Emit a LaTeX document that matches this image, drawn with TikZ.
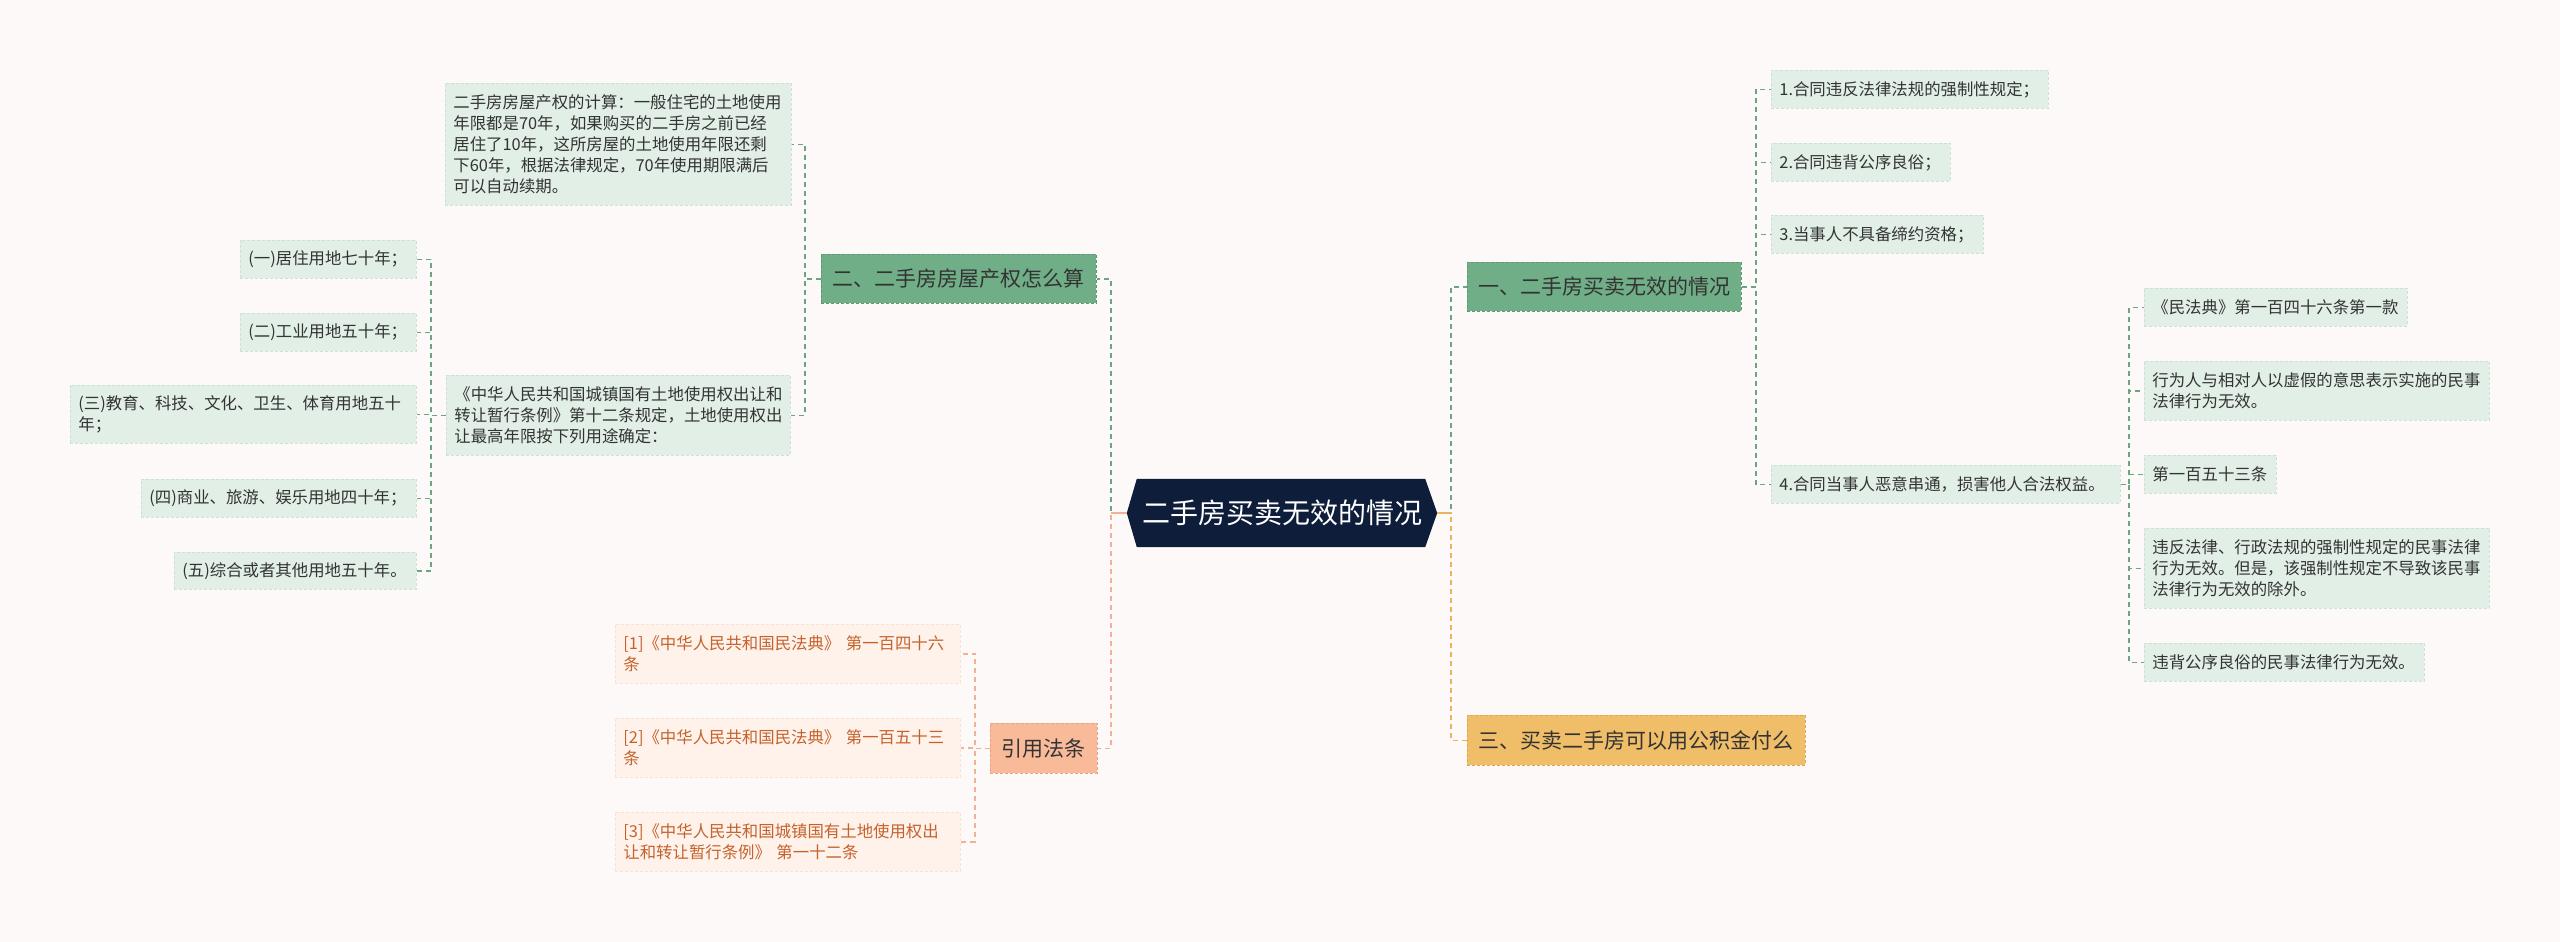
\documentclass[tikz,border=0pt]{standalone}
\usepackage{fontspec}
\setmainfont{Noto Sans CJK SC}
\usetikzlibrary{backgrounds}
\definecolor{bgc}{HTML}{FCF9F8}
\definecolor{navy}{HTML}{0E1E3A}
\definecolor{gmain}{HTML}{70AE87}
\definecolor{gmainb}{HTML}{5C9A73}
\definecolor{gleaf}{HTML}{E1EFE6}
\definecolor{gleafb}{HTML}{CCE2D4}
\definecolor{gold}{HTML}{F0BE69}
\definecolor{goldb}{HTML}{DDA850}
\definecolor{salmon}{HTML}{F9BA9A}
\definecolor{salmonb}{HTML}{EBA482}
\definecolor{oleaf}{HTML}{FEF2EA}
\definecolor{oleafb}{HTML}{F8E2D6}
\definecolor{otext}{HTML}{C5622C}
\definecolor{txt}{HTML}{333333}
\definecolor{gline}{HTML}{6BA581}
\definecolor{yline}{HTML}{E9B55E}
\definecolor{oline}{HTML}{F2B195}
\begin{document}
\begin{tikzpicture}[x=1pt,y=-1pt,
  sz/.style n args={3}{minimum width=#1pt, minimum height=#2pt, text width=#3pt},
  leafg/.style={draw=gleafb, fill=gleaf, dash pattern=on 3pt off 2pt, line width=0.8pt,
    text=txt, font=\fontsize{16.4}{21}\selectfont, align=left, inner xsep=8pt, inner ysep=0pt, anchor=north west},
  leafo/.style={leafg, draw=oleafb, fill=oleaf, text=otext},
  mainbox/.style={dash pattern=on 3pt off 2pt, line width=0.9pt, text=txt,
    font=\fontsize{21}{25}\selectfont, align=center, inner sep=0pt, anchor=north west},
  gl/.style={draw=gline, line width=1.3pt, dash pattern=on 5pt off 4pt},
  yl/.style={draw=yline, line width=1.3pt, dash pattern=on 5pt off 4pt},
  ol/.style={draw=oline, line width=1.3pt, dash pattern=on 5pt off 4pt},
]
\begin{scope}[on background layer]
\fill[bgc] (0,0) rectangle (2560,942);
\end{scope}
\useasboundingbox (0,0) rectangle (2560,942);

% central
\node[minimum width=310pt, minimum height=68pt, inner sep=0pt, text=white,
  font=\fontsize{28}{32}\selectfont] (c) at (1282,513) {二手房买卖无效的情况};
\begin{scope}[on background layer]
\fill[navy] (c.west) -- ([xshift=10pt]c.north west) -- ([xshift=-12pt]c.north east)
  -- (c.east) -- ([xshift=-12pt]c.south east) -- ([xshift=10pt]c.south west) -- cycle;
\end{scope}

% main branches
\node[mainbox, draw=gmainb, fill=gmain, minimum width=275pt, minimum height=49pt] (n2) at (821,254) {二、二手房房屋产权怎么算};
\node[mainbox, draw=salmonb, fill=salmon, minimum width=107pt, minimum height=50pt] (ref) at (990,723) {引用法条};
\node[mainbox, draw=gmainb, fill=gmain, minimum width=274pt, minimum height=49pt] (n1) at (1467,262) {一、二手房买卖无效的情况};
\node[mainbox, draw=goldb, fill=gold, minimum width=338pt, minimum height=50pt] (n3) at (1467,715) {三、买卖二手房可以用公积金付么};

% left subtree
\node[leafg, sz={346}{122}{330}] (calc) at (445,83) {二手房房屋产权的计算：一般住宅的土地使用\\年限都是70年，如果购买的二手房之前已经\\居住了10年，这所房屋的土地使用年限还剩\\下60年，根据法律规定，70年使用期限满后\\可以自动续期。};
\node[leafg, sz={344}{80}{328}] (zh) at (446,375) {《中华人民共和国城镇国有土地使用权出让和\\转让暂行条例》第十二条规定，土地使用权出\\让最高年限按下列用途确定：};
\node[leafg, sz={176}{38}{160}] (l1) at (240,240) {(一)居住用地七十年；};
\node[leafg, sz={176}{38}{160}] (l2) at (240,313) {(二)工业用地五十年；};
\node[leafg, sz={346}{58}{330}] (l3) at (70,385) {(三)教育、科技、文化、卫生、体育用地五十\\年；};
\node[leafg, sz={275}{38}{259}] (l4) at (141,479) {(四)商业、旅游、娱乐用地四十年；};
\node[leafg, sz={242}{37}{226}] (l5) at (174,552) {(五)综合或者其他用地五十年。};

% references
\node[leafo, sz={345}{59}{329}] (r1) at (615,624) {[1]《中华人民共和国民法典》 第一百四十六\\条};
\node[leafo, sz={345}{59}{329}] (r2) at (615,718) {[2]《中华人民共和国民法典》 第一百五十三\\条};
\node[leafo, sz={345}{59}{329}] (r3) at (615,812) {[3]《中华人民共和国城镇国有土地使用权出\\让和转让暂行条例》 第一十二条};

% right subtree
\node[leafg, sz={277}{38}{261}] (c1) at (1771,70) {1.合同违反法律法规的强制性规定；};
\node[leafg, sz={179}{38}{163}] (c2) at (1771,143) {2.合同违背公序良俗；};
\node[leafg, sz={212}{38}{196}] (c3) at (1771,215) {3.当事人不具备缔约资格；};
\node[leafg, sz={349}{38}{333}] (c4) at (1771,465) {4.合同当事人恶意串通，损害他人合法权益。};
\node[leafg, sz={263}{38}{247}] (d1) at (2144,288) {《民法典》第一百四十六条第一款};
\node[leafg, sz={345}{59}{329}] (d2) at (2144,361) {行为人与相对人以虚假的意思表示实施的民事\\法律行为无效。};
\node[leafg, sz={132}{38}{116}] (d3) at (2144,455) {第一百五十三条};
\node[leafg, sz={345}{80}{329}] (d4) at (2144,528) {违反法律、行政法规的强制性规定的民事法律\\行为无效。但是，该强制性规定不导致该民事\\法律行为无效的除外。};
\node[leafg, sz={280}{38}{264}] (d5) at (2144,643) {违背公序良俗的民事法律行为无效。};

% trunk coordinates
\coordinate (vL) at (1111,0);
\coordinate (vR) at (1451,0);
\coordinate (vA) at (805,0);
\coordinate (vB) at (431,0);
\coordinate (vC) at (975,0);
\coordinate (vD) at (1756,0);
\coordinate (vE) at (2129,0);

% central connectors
\draw[gl] (c.west) -- (c.west -| vL) |- (n2.east);
\draw[ol] (c.west) -- (c.west -| vL) |- (ref.east);
\draw[oline, line width=1.6pt] (c.west) -- (c.west -| vL);
\draw[gl] (c.east) -- (c.east -| vR) |- (n1.west);
\draw[yl] (c.east) -- (c.east -| vR) |- (n3.west);
\draw[yline, line width=1.6pt] (c.east) -- (c.east -| vR);

% left connectors
\foreach \t in {calc,zh} \draw[gl] (n2.west) -- (n2.west -| vA) |- (\t.east);
\foreach \t in {l1,l2,l3,l4,l5} \draw[gl] (zh.west) -- (zh.west -| vB) |- (\t.east);
\foreach \t in {r1,r2,r3} \draw[ol] (ref.west) -- (ref.west -| vC) |- (\t.east);

% right connectors
\foreach \t in {c1,c2,c3,c4} \draw[gl] (n1.east) -- (n1.east -| vD) |- (\t.west);
\foreach \t in {d1,d2,d3,d4,d5} \draw[gl] (c4.east) -- (c4.east -| vE) |- (\t.west);
\end{tikzpicture}
\end{document}
